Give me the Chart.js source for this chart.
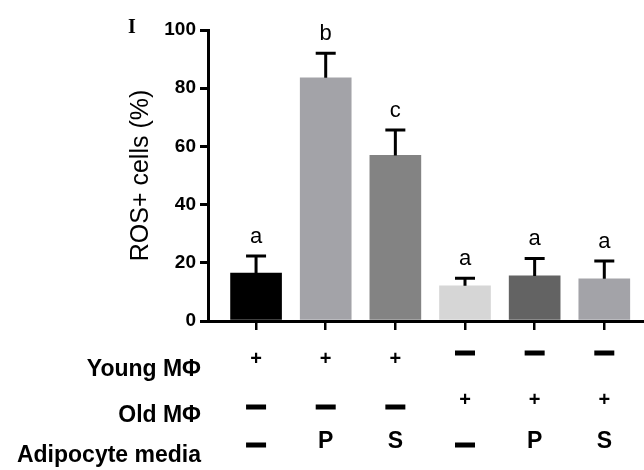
<!DOCTYPE html>
<html>
<head>
<meta charset="utf-8">
<script src="https://cdn.jsdelivr.net/npm/chart.js@4"></script>
<style>
  body { margin: 0; background: #fff; }
  #ros_chart { display: block; }
</style>
</head>
<body>
<canvas id="ros_chart" width="644" height="470"></canvas>
<script>
// group positions on the x axis (0..5)
var groups     = [0, 1, 2, 3, 4, 5];
var rosValues  = [16.5, 83.6, 56.9, 12.1, 15.5, 14.5];
var rosErrors  = [5.8, 8.4, 8.7, 2.6, 6.0, 6.1];
var sigLetters = ['a', 'b', 'c', 'a', 'a', 'a'];
var barColors  = ['#000000', '#a3a3a8', '#838383', '#d6d6d6', '#636363', '#a3a3a8'];
var yTicks     = [0, 20, 40, 60, 80, 100];

// condition table under the bars
var rowLabels  = ['Young MΦ', 'Old MΦ', 'Adipocyte media'];
var youngMac   = ['+', '+', '+', '-', '-', '-'];
var oldMac     = ['-', '-', '-', '+', '+', '+'];
var media      = ['-', 'P', 'S', '-', 'P', 'S'];

var SANS = "'Liberation Sans', Arial, sans-serif";

// error bars + significance letters
const errorBarPlugin = {
    id: 'errorBars',
    afterDatasetsDraw(chart) {
        const ctx = chart.ctx;
        const xs = chart.scales.x, ys = chart.scales.y;
        ctx.save();
        ctx.strokeStyle = '#000';
        ctx.lineWidth = 3;
        ctx.fillStyle = '#000';
        ctx.font = '22px ' + SANS;
        ctx.textAlign = 'center';
        ctx.textBaseline = 'alphabetic';
        groups.forEach(function (g, i) {
            var x = xs.getPixelForValue(g);
            var yBar = ys.getPixelForValue(rosValues[i]);
            var yTop = ys.getPixelForValue(rosValues[i] + rosErrors[i]);
            ctx.beginPath();
            ctx.moveTo(x, yBar);
            ctx.lineTo(x, yTop);
            ctx.moveTo(x - 10, yTop);
            ctx.lineTo(x + 10, yTop);
            ctx.stroke();
            ctx.fillText(sigLetters[i], x, yTop - 13);
        });
        ctx.restore();
    }
};

// panel letter and the +/- table
const tablePlugin = {
    id: 'conditionTable',
    afterDraw(chart) {
        const ctx = chart.ctx;
        const xs = chart.scales.x;
        ctx.save();
        ctx.fillStyle = '#000';

        ctx.font = "bold 20px 'Liberation Serif', 'Times New Roman', serif";
        ctx.textAlign = 'left';
        ctx.textBaseline = 'alphabetic';
        ctx.fillText('I', 128, 33);

        var rows = [
            { label: rowLabels[0], vals: youngMac, base: 376, plusY: 359, dashY: 353 },
            { label: rowLabels[1], vals: oldMac,   base: 422, plusY: 400, dashY: 407 },
            { label: rowLabels[2], vals: media,    base: 462, plusY: 442, dashY: 445 }
        ];
        rows.forEach(function (r) {
            ctx.font = 'bold 23px ' + SANS;
            ctx.textAlign = 'right';
            ctx.textBaseline = 'alphabetic';
            ctx.fillText(r.label, 201, r.base);
            r.vals.forEach(function (v, i) {
                var x = xs.getPixelForValue(groups[i]);
                if (v === '-') {
                    ctx.fillRect(x - 10, r.dashY - 2.5, 20, 5);
                } else {
                    ctx.textAlign = 'center';
                    ctx.textBaseline = 'middle';
                    ctx.font = (v === '+' ? 'bold 20px ' : 'bold 23px ') + SANS;
                    ctx.fillText(v, x, r.plusY);
                }
            });
        });
        ctx.restore();
    }
};

const data = {
    datasets: [
        {
            label: 'ROS+ cells (%)',
            data: groups.map(function (g, i) { return { x: g, y: rosValues[i] }; }),
            backgroundColor: barColors,
            borderWidth: 0,
            barThickness: 51
        }
    ]
};

const config = {
    type: 'bar',
    data: data,
    options: {
        responsive: false,
        animation: false,
        devicePixelRatio: 1,
        layout: { padding: { top: 30, right: 0, bottom: 0, left: 0 } },
        plugins: {
            legend: { display: false },
            tooltip: { enabled: false }
        },
        scales: {
            x: {
                type: 'linear',
                offset: false,
                min: -0.69,
                max: 5.57,
                afterBuildTicks: function (scale) {
                    scale.ticks = groups.map(function (g) { return { value: g }; });
                },
                afterFit: function (scale) { scale.height = 149; },
                ticks: { display: false },
                grid: {
                    offset: false,
                    drawOnChartArea: false,
                    drawTicks: true,
                    tickLength: 9,
                    tickColor: '#000',
                    color: '#000',
                    lineWidth: 2.5
                },
                border: { color: '#000', width: 3 }
            },
            y: {
                min: 0,
                max: 100,
                afterBuildTicks: function (scale) {
                    scale.ticks = yTicks.map(function (v) { return { value: v }; });
                },
                afterFit: function (scale) { scale.width = 208; },
                ticks: {
                    color: '#000',
                    padding: 4,
                    font: { family: SANS, size: 19, weight: 'bold' }
                },
                grid: {
                    drawOnChartArea: false,
                    drawTicks: true,
                    tickLength: 8,
                    tickColor: '#000',
                    color: '#000',
                    lineWidth: 3
                },
                border: { color: '#000', width: 3 },
                title: {
                    display: true,
                    text: 'ROS+ cells (%)',
                    color: '#000',
                    padding: { top: 126, bottom: 0 },
                    font: { family: SANS, size: 25, weight: 'normal' }
                }
            }
        }
    },
    plugins: [errorBarPlugin, tablePlugin]
};

var myChart = new Chart(document.getElementById('ros_chart'), config);
</script>
</body>
</html>
